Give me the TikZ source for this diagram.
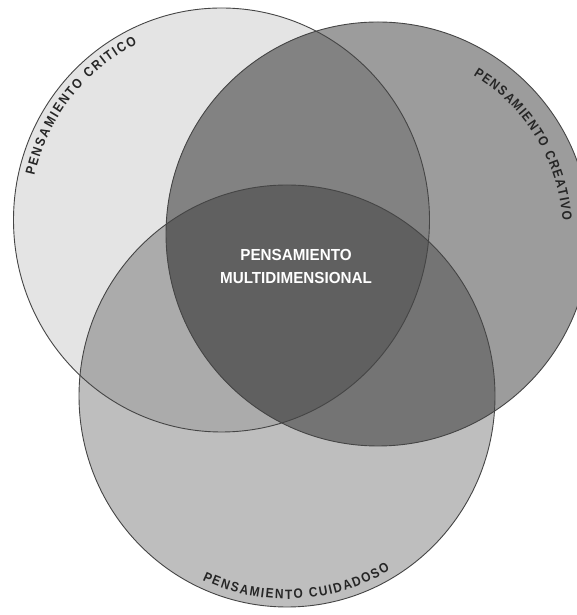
\documentclass[tikz,border=0pt]{standalone}
\usepackage{fontspec}
\setmainfont{Liberation Sans}
\newfontfamily\curvefont[FakeStretch=0.88]{Liberation Sans}
\newfontfamily\midfont[FakeStretch=0.95]{Liberation Sans}
\usetikzlibrary{decorations.text}
\definecolor{critC}{HTML}{E4E4E4}
\definecolor{creaC}{HTML}{9C9C9C}
\definecolor{cuidC}{HTML}{BEBEBE}
\definecolor{crcrC}{HTML}{828282}
\definecolor{crcuC}{HTML}{ABABAB}
\definecolor{rdC}{HTML}{747474}
\definecolor{allC}{HTML}{606060}
\definecolor{edgeC}{HTML}{454545}
\begin{document}
\begin{tikzpicture}[x=1pt,y=1pt,
  ring/.style={draw=edgeC, line width=0.9pt},
  curvelabel/.style={decorate, decoration={text along path, text align=fit to path, text={#1}}}]
\useasboundingbox (0,0) rectangle (577,615);
\fill[white] (0,0) rectangle (577,615);
\clip (0,0) rectangle (577,615);
\coordinate (cc) at (221.5,395);
\coordinate (rc) at (378,381);
\coordinate (dc) at (287,219);
% base fills
\fill[critC] (cc) ellipse [x radius=208, y radius=212];
\fill[creaC] (rc) circle [radius=212];
\fill[cuidC] (dc) ellipse [x radius=208, y radius=211];
% pairwise overlaps
\begin{scope}
  \clip (cc) ellipse [x radius=208, y radius=212];
  \fill[crcrC] (rc) circle [radius=212];
  \fill[crcuC] (dc) ellipse [x radius=208, y radius=211];
\end{scope}
\begin{scope}
  \clip (rc) circle [radius=212];
  \fill[rdC] (dc) ellipse [x radius=208, y radius=211];
\end{scope}
% triple overlap
\begin{scope}
  \clip (cc) ellipse [x radius=208, y radius=212];
  \clip (rc) circle [radius=212];
  \fill[allC] (dc) ellipse [x radius=208, y radius=211];
\end{scope}
% outlines
\draw[ring] (cc) ellipse [x radius=208, y radius=212];
\draw[ring] (rc) circle [radius=212];
\draw[ring] (dc) ellipse [x radius=208, y radius=211];
% curved labels
\path[shift={(221.5,395)}, curvelabel={|\curvefont\bfseries\fontsize{13.5}{14}\selectfont\color{black!85}|PENSAMIENTO CRITICO}]
  (167:192 and 196) arc [start angle=167, end angle=116, x radius=192, y radius=196];
\path[shift={(378,381)}, curvelabel={|\curvefont\bfseries\fontsize{13.5}{14}\selectfont\color{black!85}|PENSAMIENTO CREATIVO}]
  (59:185) arc [start angle=59, end angle=4, radius=185];
\path[shift={(287,219)}, curvelabel={|\curvefont\bfseries\fontsize{13.5}{14}\selectfont\color{black!85}|PENSAMIENTO CUIDADOSO}]
  (245:200 and 203) arc [start angle=245, end angle=301, x radius=200, y radius=203];
% centre label
\node[text=white, align=center, font=\midfont\bfseries\fontsize{16}{23}\selectfont] (mid) at (296,349)
  {PENSAMIENTO\\MULTIDIMENSIONAL};
\end{tikzpicture}
\end{document}
